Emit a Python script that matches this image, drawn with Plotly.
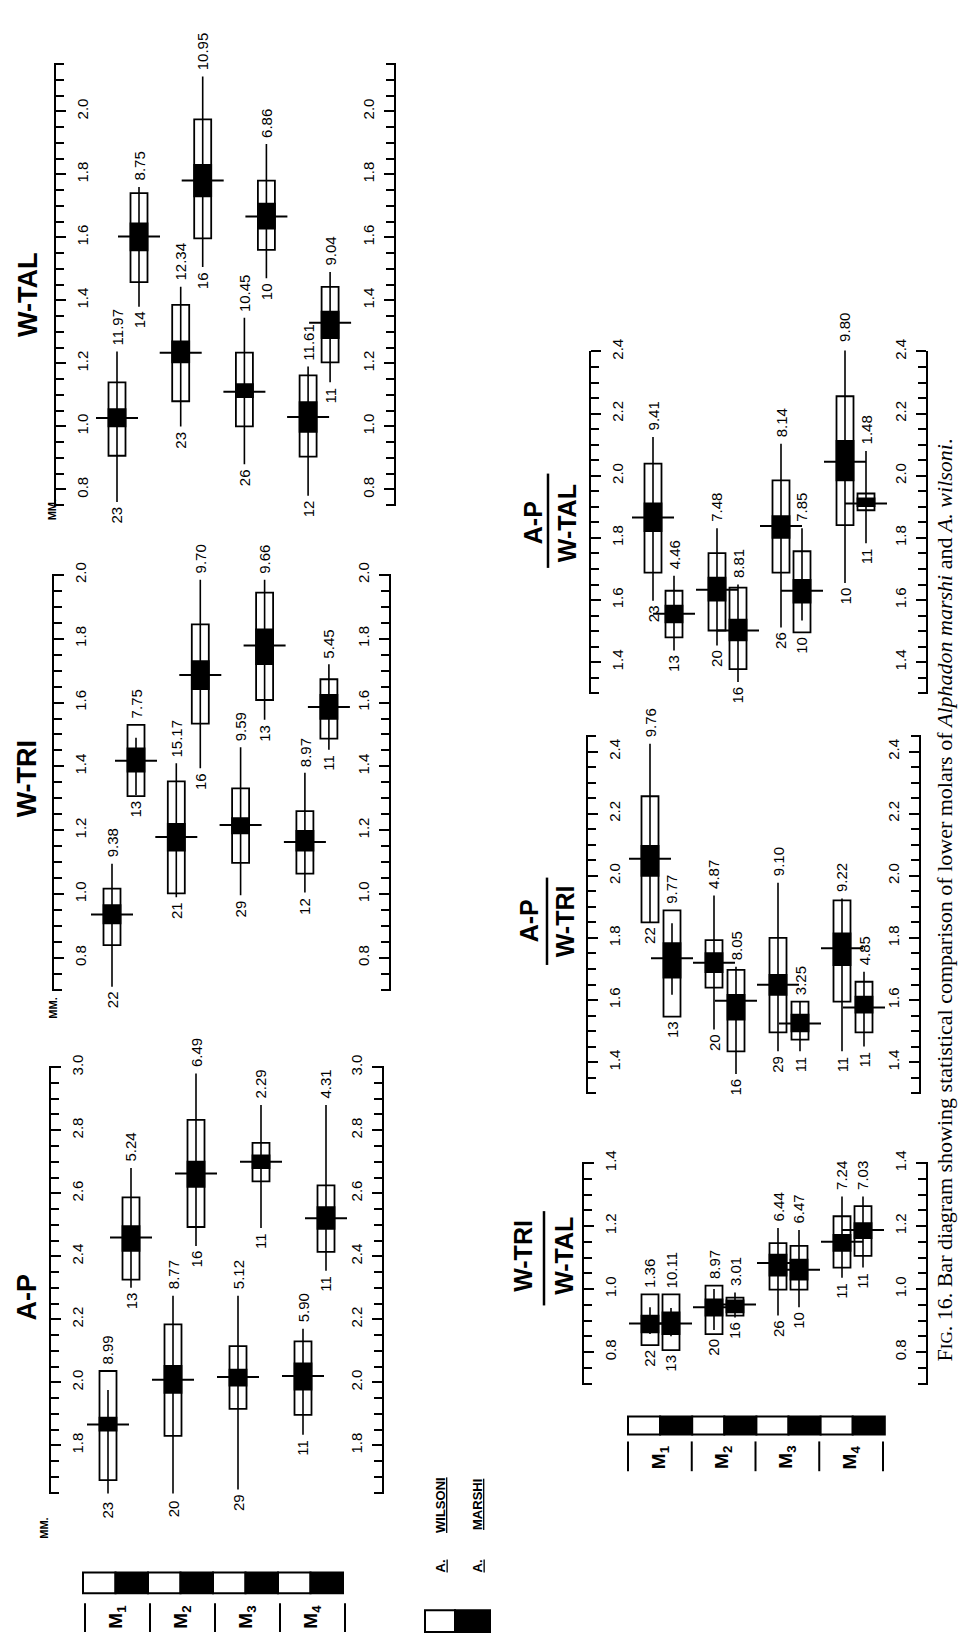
import plotly.graph_objects as go

W, H = 959, 1635

# ------------------------------------------------------------------ DATA
MOLARS = ["M<sub>1</sub>", "M<sub>2</sub>", "M<sub>3</sub>", "M<sub>4</sub>"]
SPECIES = ["WILSONI", "MARSHI"]
# each list: M1 wilsoni, M1 marshi, M2 wilsoni, M2 marshi, M3 wilsoni, M3 marshi, M4 wilsoni, M4 marshi

# W-TAL (mm)
WTAL_MEAN = [1.027, 1.603, 1.234, 1.780, 1.110, 1.666, 1.030, 1.329]
WTAL_MIN = [0.760, 1.380, 1.000, 1.506, 0.880, 1.470, 0.780, 1.140]
WTAL_MAX = [1.238, 1.760, 1.443, 2.110, 1.345, 1.896, 1.190, 1.490]
WTAL_SD_LO = [0.907, 1.458, 1.080, 1.597, 1.000, 1.560, 0.904, 1.203]
WTAL_SD_HI = [1.140, 1.740, 1.386, 1.974, 1.234, 1.780, 1.162, 1.443]
WTAL_SE_LO = [1.000, 1.559, 1.203, 1.730, 1.093, 1.628, 0.983, 1.280]
WTAL_SE_HI = [1.055, 1.644, 1.270, 1.830, 1.134, 1.707, 1.077, 1.364]
WTAL_N = [23, 14, 23, 16, 26, 10, 12, 11]
WTAL_CV = ["11.97", "8.75", "12.34", "10.95", "10.45", "6.86", "11.61", "9.04"]
WTAL_TICKS = [0.8, 1.0, 1.2, 1.4, 1.6, 1.8, 2.0]

# W-TRI (mm)
WTRI_MEAN = [0.936, 1.418, 1.179, 1.686, 1.216, 1.779, 1.163, 1.586]
WTRI_MIN = [0.710, 1.310, 0.990, 1.394, 0.996, 1.546, 1.005, 1.452]
WTRI_MAX = [1.095, 1.490, 1.410, 1.985, 1.460, 1.985, 1.380, 1.720]
WTRI_SD_LO = [0.840, 1.307, 1.002, 1.534, 1.098, 1.608, 1.064, 1.487]
WTRI_SD_HI = [1.017, 1.530, 1.353, 1.845, 1.331, 1.944, 1.260, 1.673]
WTRI_SE_LO = [0.908, 1.384, 1.136, 1.642, 1.190, 1.720, 1.136, 1.549]
WTRI_SE_HI = [0.965, 1.456, 1.220, 1.730, 1.238, 1.829, 1.198, 1.624]
WTRI_N = [22, 13, 21, 16, 29, 13, 12, 11]
WTRI_CV = ["9.38", "7.75", "15.17", "9.70", "9.59", "9.66", "8.97", "5.45"]
WTRI_TICKS = [0.8, 1.0, 1.2, 1.4, 1.6, 1.8, 2.0]

# A-P (mm)
AP_MEAN = [1.866, 2.460, 2.008, 2.663, 2.017, 2.700, 2.020, 2.521]
AP_MIN = [1.636, 2.300, 1.640, 2.433, 1.660, 2.490, 1.834, 2.354]
AP_MAX = [1.976, 2.680, 2.275, 2.980, 2.275, 2.880, 2.170, 2.880]
AP_SD_LO = [1.690, 2.326, 1.830, 2.493, 1.916, 2.638, 1.897, 2.414]
AP_SD_HI = [2.036, 2.587, 2.184, 2.833, 2.115, 2.760, 2.130, 2.625]
AP_SE_LO = [1.847, 2.417, 1.967, 2.620, 1.990, 2.680, 1.977, 2.487]
AP_SE_HI = [1.888, 2.496, 2.052, 2.700, 2.040, 2.720, 2.060, 2.556]
AP_N = [23, 13, 20, 16, 29, 11, 11, 11]
AP_CV = ["8.99", "5.24", "8.77", "6.49", "5.12", "2.29", "5.90", "4.31"]
AP_TICKS = [1.8, 2.0, 2.2, 2.4, 2.6, 2.8, 3.0]

# A-P / W-TAL
APWTAL_MEAN = [1.866, 1.556, 1.633, 1.502, 1.838, 1.630, 2.045, 1.911]
APWTAL_MIN = [1.598, 1.438, 1.454, 1.336, 1.512, 1.534, 1.655, 1.783]
APWTAL_MAX = [2.125, 1.678, 1.831, 1.650, 2.103, 1.831, 2.410, 2.080]
APWTAL_SD_LO = [1.688, 1.480, 1.502, 1.378, 1.688, 1.496, 1.841, 1.889]
APWTAL_SD_HI = [2.039, 1.630, 1.751, 1.640, 1.985, 1.757, 2.256, 1.943]
APWTAL_SE_LO = [1.822, 1.528, 1.598, 1.470, 1.800, 1.592, 1.985, 1.902]
APWTAL_SE_HI = [1.911, 1.582, 1.672, 1.537, 1.870, 1.665, 2.112, 1.927]
APWTAL_N = [23, 13, 20, 16, 26, 10, 10, 11]
APWTAL_CV = ["9.41", "4.46", "7.48", "8.81", "8.14", "7.85", "9.80", "1.48"]
APWTAL_TICKS = [1.4, 1.6, 1.8, 2.0, 2.2, 2.4]

# A-P / W-TRI
APWTRI_MEAN = [2.055, 1.735, 1.720, 1.598, 1.649, 1.525, 1.767, 1.576]
APWTRI_MIN = [1.850, 1.617, 1.505, 1.362, 1.435, 1.435, 1.435, 1.451]
APWTRI_MAX = [2.425, 1.847, 1.937, 1.707, 1.978, 1.595, 1.927, 1.691]
APWTRI_SD_LO = [1.850, 1.547, 1.640, 1.435, 1.496, 1.473, 1.595, 1.496]
APWTRI_SD_HI = [2.256, 1.889, 1.793, 1.697, 1.800, 1.595, 1.921, 1.659]
APWTRI_SE_LO = [2.000, 1.672, 1.690, 1.537, 1.617, 1.499, 1.713, 1.560]
APWTRI_SE_HI = [2.096, 1.783, 1.751, 1.617, 1.681, 1.553, 1.815, 1.611]
APWTRI_N = [22, 13, 20, 16, 29, 11, 11, 11]
APWTRI_CV = ["9.76", "9.77", "4.87", "8.05", "9.10", "3.25", "9.22", "4.85"]
APWTRI_TICKS = [1.4, 1.6, 1.8, 2.0, 2.2, 2.4]

# W-TRI / W-TAL
WTRIWTAL_MEAN = [0.891, 0.891, 0.942, 0.951, 1.083, 1.061, 1.150, 1.187]
WTRIWTAL_MIN = [0.857, 0.850, 0.870, 0.910, 0.916, 0.942, 1.036, 1.068]
WTRIWTAL_MAX = [0.942, 0.940, 1.000, 0.989, 1.194, 1.187, 1.294, 1.294]
WTRIWTAL_SD_LO = [0.822, 0.806, 0.857, 0.916, 0.998, 0.998, 1.068, 1.105]
WTRIWTAL_SD_HI = [0.983, 0.983, 1.011, 0.973, 1.146, 1.137, 1.231, 1.263]
WTRIWTAL_SE_LO = [0.863, 0.857, 0.916, 0.926, 1.043, 1.030, 1.121, 1.162]
WTRIWTAL_SE_HI = [0.916, 0.926, 0.967, 0.964, 1.109, 1.093, 1.172, 1.209]
WTRIWTAL_N = [22, 13, 20, 16, 26, 10, 11, 11]
WTRIWTAL_CV = ["1.36", "10.11", "8.97", "3.01", "6.44", "6.47", "7.24", "7.03"]
WTRIWTAL_TICKS = [0.8, 1.0, 1.2, 1.4]

PANEL_DATA = {
    "WTAL": (WTAL_MEAN, WTAL_MIN, WTAL_MAX, WTAL_SD_LO, WTAL_SD_HI, WTAL_SE_LO, WTAL_SE_HI, WTAL_N, WTAL_CV, WTAL_TICKS),
    "WTRI": (WTRI_MEAN, WTRI_MIN, WTRI_MAX, WTRI_SD_LO, WTRI_SD_HI, WTRI_SE_LO, WTRI_SE_HI, WTRI_N, WTRI_CV, WTRI_TICKS),
    "AP": (AP_MEAN, AP_MIN, AP_MAX, AP_SD_LO, AP_SD_HI, AP_SE_LO, AP_SE_HI, AP_N, AP_CV, AP_TICKS),
    "APWTAL": (APWTAL_MEAN, APWTAL_MIN, APWTAL_MAX, APWTAL_SD_LO, APWTAL_SD_HI, APWTAL_SE_LO, APWTAL_SE_HI, APWTAL_N, APWTAL_CV, APWTAL_TICKS),
    "APWTRI": (APWTRI_MEAN, APWTRI_MIN, APWTRI_MAX, APWTRI_SD_LO, APWTRI_SD_HI, APWTRI_SE_LO, APWTRI_SE_HI, APWTRI_N, APWTRI_CV, APWTRI_TICKS),
    "WTRIWTAL": (WTRIWTAL_MEAN, WTRIWTAL_MIN, WTRIWTAL_MAX, WTRIWTAL_SD_LO, WTRIWTAL_SD_HI, WTRIWTAL_SE_LO, WTRIWTAL_SE_HI, WTRIWTAL_N, WTRIWTAL_CV, WTRIWTAL_TICKS),
}

# ------------------------------------------------------------------ LAYOUT (page pixels)
# key, left axis x, right axis x, ref value, ref y px, px per unit, vmin, vmax, first col x, molar step, species offset
PANEL_GEOM = [
    ("WTAL", 55, 395, 2.0, 100, 317.5, 0.75, 2.15, 117, 63.7, 22),
    ("WTRI", 53, 390, 2.0, 567, 321.6, 0.70, 2.00, 112, 64.3, 24),
    ("AP", 50, 383, 3.0, 1063, 317.5, 1.65, 3.00, 108, 65.0, 23),
    ("APWTAL", 590, 927, 2.4, 342, 313.0, 1.30, 2.40, 653, 64.0, 21),
    ("APWTRI", 587, 920, 2.4, 745, 313.0, 1.30, 2.45, 650, 64.0, 22),
    ("WTRIWTAL", 583, 927, 1.2, 1223, 317.5, 0.70, 1.40, 650, 64.0, 21),
]

SANS = "Liberation Sans, Arial, sans-serif"
SERIF = "Liberation Serif, Times New Roman, serif"
BOX_W = 17


def px(x):
    return x / W


def py(y):
    return 1 - y / H


def ann(text, x, y, size, bold=False, family=SANS, angle=-90, xanchor="center", yanchor="middle", yshift=0):
    if bold:
        text = "<b>" + text + "</b>"
    return dict(text=text, x=px(x), y=py(y), xref="paper", yref="paper", showarrow=False,
                textangle=angle, xanchor=xanchor, yanchor=yanchor, yshift=yshift,
                font=dict(family=family, size=size, color="black"))


fig = go.Figure()
annotations = []
shapes = []
axes = {}

for k, (key, xl, xr, vref, yref, ppu, vmin, vmax, c0, step, off) in enumerate(PANEL_GEOM):
    mean, rmin, rmax, sdlo, sdhi, selo, sehi, nn, cv, ticks = PANEL_DATA[key]
    i = k + 1
    sfx = "" if i == 1 else str(i)
    xa, ya, ya2 = "x" + sfx, "y" + sfx, "y" + str(i + 6)
    pos = [c0 + m * step + s * off for m in range(4) for s in range(2)]

    eps = 0.003
    lo, hi = vmin - eps, vmax + eps
    ytop = yref - (hi - vref) * ppu
    ybot = yref + (vref - lo) * ppu

    def vy(v, yref=yref, vref=vref, ppu=ppu):
        return yref + (vref - v) * ppu

    axes["xaxis" + sfx] = dict(domain=[px(xl), px(xr)], range=[xl, xr], visible=False,
                               anchor=ya, fixedrange=True)
    common = dict(range=[lo, hi], showline=True, linecolor="black", linewidth=2,
                  ticks="outside", ticklen=10, tickwidth=2, tickcolor="black",
                  tickmode="array", tickvals=ticks, ticktext=[f"{t:.1f}" for t in ticks],
                  tickangle=-90, tickfont=dict(family=SANS, size=15, color="black"),
                  ticklabelstandoff=4,
                  minor=dict(ticks="outside", ticklen=8, tickwidth=2, tickcolor="black",
                             dtick=0.05, tick0=0, showgrid=False),
                  showgrid=False, zeroline=False, fixedrange=True)
    axes["yaxis" + sfx] = dict(common, domain=[py(ybot), py(ytop)], anchor="free",
                               position=px(xl), side="right")
    axes["yaxis" + str(i + 6)] = dict(common, anchor="free", position=px(xr), side="left",
                                      overlaying=ya)

    # white box : +/- one standard deviation
    fig.add_trace(go.Bar(x=pos, base=sdlo, y=[h - l for l, h in zip(sdlo, sdhi)], width=BOX_W,
                         marker=dict(color="white", line=dict(color="black", width=1.8)),
                         xaxis=xa, yaxis=ya, hoverinfo="skip"))
    # black box : +/- two standard errors
    fig.add_trace(go.Bar(x=pos, base=selo, y=[h - l for l, h in zip(selo, sehi)], width=BOX_W,
                         marker=dict(color="black", line=dict(color="black", width=1.8)),
                         xaxis=xa, yaxis=ya, hoverinfo="skip"))
    # observed range
    lx, ly = [], []
    for p, a, b in zip(pos, rmin, rmax):
        lx += [p, p, None]
        ly += [a, b, None]
    fig.add_trace(go.Scatter(x=lx, y=ly, mode="lines", line=dict(color="black", width=1.6),
                             xaxis=xa, yaxis=ya, hoverinfo="skip"))
    # mean
    fig.add_trace(go.Scatter(x=pos, y=mean, mode="markers",
                             marker=dict(symbol="line-ew", size=30, line=dict(color="black", width=2)),
                             xaxis=xa, yaxis=ya2, hoverinfo="skip"))

    # sample size below, coefficient of variation above
    for p, a, b, sl, sh, n_, c_ in zip(pos, rmin, rmax, sdlo, sdhi, nn, cv):
        annotations.append(ann(str(n_), p, vy(min(a, sl)), 15, yanchor="top", yshift=-3))
        annotations.append(ann(c_, p, vy(max(b, sh)), 15, yanchor="bottom", yshift=4))

# ---- panel titles
annotations.append(ann("W-TAL", 28, 285, 27, bold=True))
annotations.append(ann("W-TRI", 27, 773, 27, bold=True))
annotations.append(ann("A-P", 27, 1295, 27, bold=True))

RATIO_TITLES = [("A-P", "W-TAL", 533, 567, 548, 515, 465, 560),
                ("A-P", "W-TRI", 529, 565, 547, 916, 872, 960),
                ("W-TRI", "W-TAL", 523, 564, 544, 1253, 1208, 1303)]
for num, den, xn, xd, xline, yc, y0, y1 in RATIO_TITLES:
    annotations.append(ann(num, xn, yc, 25, bold=True))
    annotations.append(ann(den, xd, yc, 25, bold=True))
    shapes.append(dict(type="line", xref="paper", yref="paper", x0=px(xline), x1=px(xline),
                       y0=py(y0), y1=py(y1), line=dict(color="black", width=2.5)))

for mx, my in [(52, 502), (53, 1004), (44, 1528)]:
    annotations.append(ann("MM.", mx, my, 11, bold=True))

# ---- molar strips
STRIPS = [
    (83, 32.5, 1572, 1593, 85, 65, 1603, 1632, 1617),
    (628, 32.1, 1415, 1433, 628, 63.75, 1440, 1470, 1456),
]
for x0, seg, yt, yb, sx0, sstep, st, sb, ly in STRIPS:
    for j in range(8):
        shapes.append(dict(type="rect", xref="paper", yref="paper",
                           x0=px(x0 + j * seg), x1=px(x0 + (j + 1) * seg), y0=py(yb), y1=py(yt),
                           fillcolor="white" if j % 2 == 0 else "black",
                           line=dict(color="black", width=2)))
    for j in range(5):
        sx = sx0 + j * sstep
        shapes.append(dict(type="line", xref="paper", yref="paper", x0=px(sx), x1=px(sx),
                           y0=py(st), y1=py(sb), line=dict(color="black", width=2)))
    for j, lab in enumerate(MOLARS):
        annotations.append(ann(lab, sx0 + (j + 0.5) * sstep, ly, 19, bold=True))

# ---- species legend
shapes.append(dict(type="rect", xref="paper", yref="paper", x0=px(425), x1=px(455),
                   y0=py(1632), y1=py(1610), fillcolor="white", line=dict(color="black", width=2)))
shapes.append(dict(type="rect", xref="paper", yref="paper", x0=px(455), x1=px(490),
                   y0=py(1632), y1=py(1610), fillcolor="black", line=dict(color="black", width=2)))
for sp, lx in zip(SPECIES, [441, 478]):
    annotations.append(ann("<u>A.</u>", lx, 1566, 13, bold=True))
    annotations.append(ann("<u>" + sp + "</u>", lx, 1504, 13, bold=True))

# ---- caption
annotations.append(ann("F<span style='font-size:17px'>IG</span>. 16. Bar diagram showing statistical "
                       "comparison of lower molars of <i>Alphadon marshi</i> and <i>A. wilsoni</i>.",
                       945, 1362, 22, family=SERIF, yanchor="bottom"))

fig.update_layout(
    width=W, height=H, autosize=False,
    margin=dict(l=0, r=0, t=0, b=0, pad=0),
    paper_bgcolor="white", plot_bgcolor="rgba(0,0,0,0)",
    barmode="overlay", showlegend=False,
    annotations=annotations, shapes=shapes,
    **axes,
)

fig.write_html("out.html", config={"displayModeBar": False, "staticPlot": True},
               post_script="document.body.style.margin='0';document.body.style.overflow='hidden';")
